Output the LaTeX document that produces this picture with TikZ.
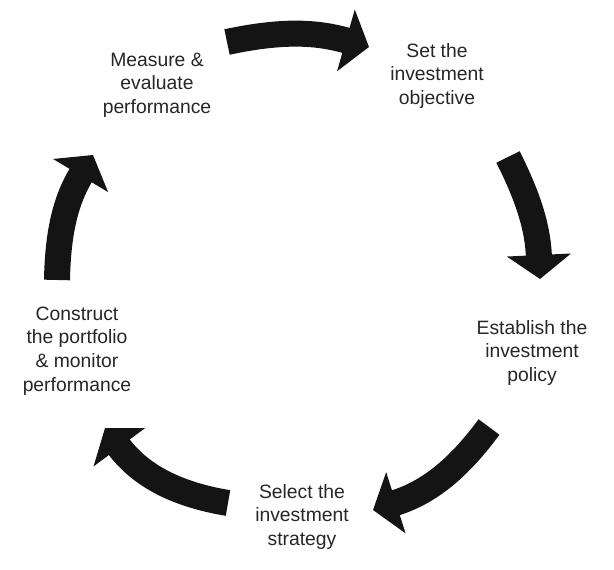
\documentclass[tikz,border=0pt]{standalone}
\usepackage{fontspec}
\setmainfont{Liberation Sans}
\usetikzlibrary{arrows.meta}

\begin{document}
\begin{tikzpicture}[x=0.02cm, y=0.02cm,
    stagetext/.style={align=center, inner sep=0pt, text=black!85,
        font=\fontsize{11}{13.4}\selectfont},
    cyclearrow/.style={line width=0.52cm, draw=black!92,
        -{Triangle[width=1.26cm, length=0.48cm]}}]

    \useasboundingbox (0,0) rectangle (614,570);

    % stage texts
    \node[stagetext] (measure)   at (157,485) {Measure \&\\evaluate\\performance};
    \node[stagetext] (objective) at (437,494) {Set the\\investment\\objective};
    \node[stagetext] (policy)    at (532,217) {Establish the\\investment\\policy};
    \node[stagetext] (strategy)  at (302,53)  {Select the\\investment\\strategy};
    \node[stagetext] (construct) at (77,219)  {Construct\\the portfolio\\\& monitor\\performance};

    % arrow ends (t = tail, h = head)
    \coordinate (t1) at (227,528); \coordinate (h1) at (369,523);
    \coordinate (t2) at (508,413); \coordinate (h2) at (540,291);
    \coordinate (t3) at (489,143); \coordinate (h3) at (373,60);
    \coordinate (t4) at (228,67);  \coordinate (h4) at (105,142);
    \coordinate (t5) at (57,290);  \coordinate (h5) at (93,415);

    % the cycle
    \draw[cyclearrow] (t1) to[bend left=14] (h1);
    \draw[cyclearrow] (t2) to[bend left=12] (h2);
    \draw[cyclearrow] (t3) to[bend left=18] (h3);
    \draw[cyclearrow] (t4) to[bend left=22] (h4);
    \draw[cyclearrow] (t5) to[bend left=15] (h5);

\end{tikzpicture}
\end{document}
